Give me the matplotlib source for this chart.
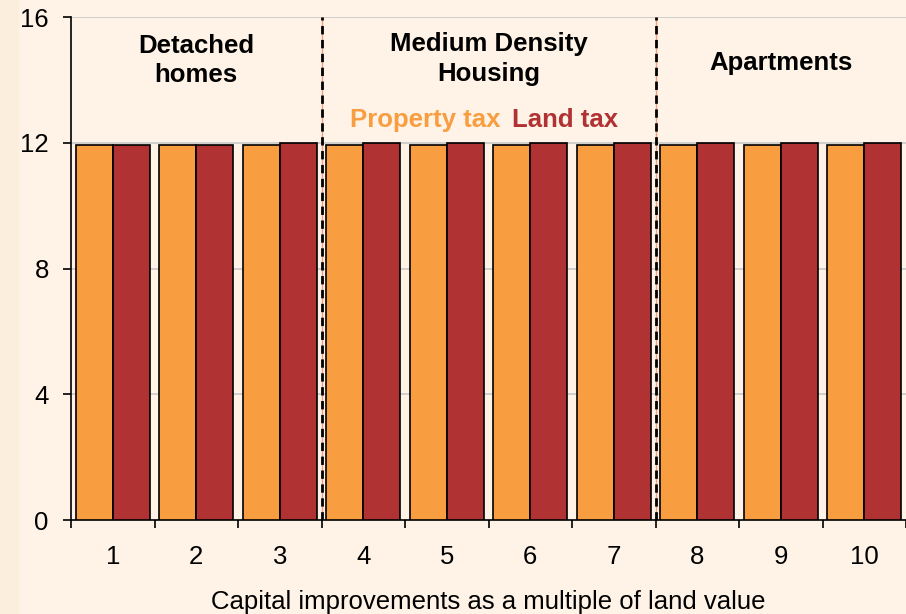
import numpy as np
import matplotlib.pyplot as plt

plt.rcParams['font.family'] = ['Liberation Sans', 'DejaVu Sans']

multiples = [1, 2, 3, 4, 5, 6, 7, 8, 9, 10]
property_tax = [11.93, 11.93, 11.93, 11.93, 11.93, 11.93, 11.93, 11.93, 11.93, 11.93]
land_tax = [11.92, 11.92, 12.0, 12.0, 12.0, 12.0, 12.0, 12.0, 12.0, 12.0]
groups = ["Detached\nhomes", "Medium Density\nHousing", "Apartments"]
group_centers = [2, 5.5, 9]
group_heights = [14.62, 14.68, 14.55]
group_breaks = [3.5, 7.5]

orange = "#F89D40"
red = "#B03232"
bg = "#FEF3E6"
fs = 18.5

fig = plt.figure(figsize=(9.06, 6.14), dpi=100, facecolor=bg)
fig.patches.append(plt.Rectangle((0, 0), 0.02, 1, transform=fig.transFigure,
                                 color="#FCEEDD", zorder=-1))
ax = fig.add_axes([0.0784, 0.153, 0.9216, 0.819])
ax.set_facecolor(bg)

x = np.array(multiples)
w = 0.445
ax.bar(x - w / 2, property_tax, w, color=orange, edgecolor="black", linewidth=1.2, zorder=3)
ax.bar(x + w / 2, land_tax, w, color=red, edgecolor="black", linewidth=1.2, zorder=3)

for yv in [4, 8, 12, 16]:
    ax.axhline(yv, color="#C8C8C8", linewidth=1.2, zorder=1)

for b in group_breaks:
    ax.axvline(b, color="#F0A080", linewidth=1, zorder=4)
    ax.axvline(b, color="black", linewidth=2, linestyle=(0, (3, 2)), zorder=5)

for cx, cy, name in zip(group_centers, group_heights, groups):
    ax.text(cx, cy, name, ha="center", va="center", fontsize=fs,
            fontweight="bold", linespacing=1.3)

ax.text(5.64, 12.72, "Property tax", color=orange, fontsize=fs, fontweight="bold",
        ha="right", va="center")
ax.text(5.78, 12.72, "Land tax", color=red, fontsize=fs, fontweight="bold",
        ha="left", va="center")

ax.set_xlim(0.5, 10.5)
ax.set_ylim(0, 16)
ax.set_yticks([0, 4, 8, 12, 16])
ax.set_xticks(np.arange(0.5, 11, 1))
ax.set_xticklabels([])
ax.set_xticks(x, minor=True)
ax.set_xticklabels([str(m) for m in multiples], minor=True)
ax.tick_params(axis="x", which="major", length=6, width=1.2, direction="out")
ax.tick_params(axis="x", which="minor", length=0, labelsize=fs, pad=18)
ax.tick_params(axis="y", length=6, width=1.2, labelsize=fs, pad=10)

for s in ["top", "right"]:
    ax.spines[s].set_visible(False)
for s in ["left", "bottom"]:
    ax.spines[s].set_linewidth(1.2)

ax.set_xlabel("Capital improvements as a multiple of land value", fontsize=fs, labelpad=15)

fig.savefig("out.png", dpi=100, facecolor=bg)
